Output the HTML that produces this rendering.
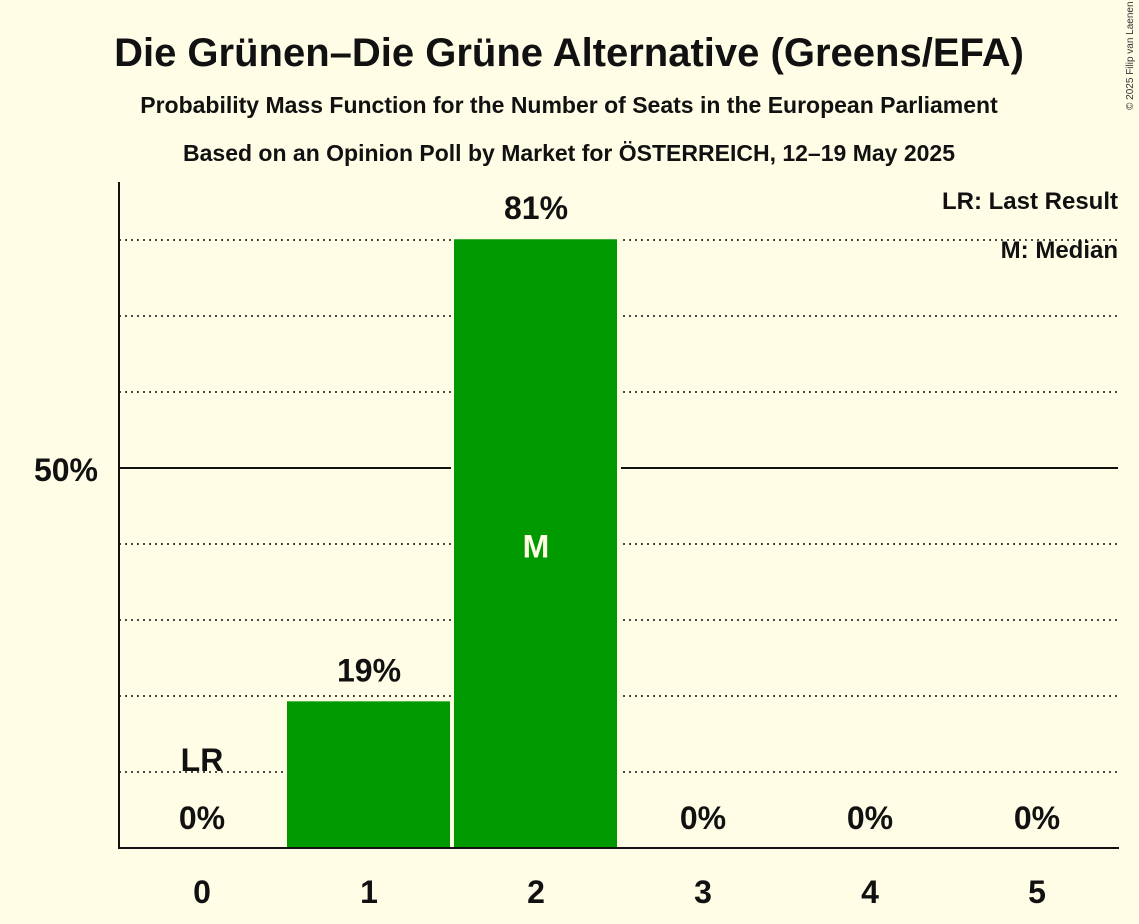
<!DOCTYPE html>
<html><head><meta charset="utf-8"><style>
body{margin:0;background:#fffde6;}
svg{display:block;font-family:"Liberation Sans",sans-serif;font-weight:bold;}
</style></head><body>
<svg width="1139" height="924" viewBox="0 0 1139 924">
<rect width="1139" height="924" fill="#fffde6"/>
<text x="569" y="66" text-anchor="middle" font-size="40" fill="#111">Die Grünen–Die Grüne Alternative (Greens/EFA)</text>
<text x="569" y="113" text-anchor="middle" font-size="23" fill="#111">Probability Mass Function for the Number of Seats in the European Parliament</text>
<text x="569" y="161" text-anchor="middle" font-size="23" fill="#111">Based on an Opinion Poll by Market for ÖSTERREICH, 12–19 May 2025</text>
<text x="1133" y="110" font-size="10" font-weight="normal" fill="#333" transform="rotate(-90 1133 110)">© 2025 Filip van Laenen</text>
<g id="grid"></g>
<g id="bars"></g>
<g id="labels"></g>
<line x1="119" y1="182" x2="119" y2="849" stroke="#111" stroke-width="2"/>
<line x1="118" y1="848" x2="1119" y2="848" stroke="#111" stroke-width="2"/>
<text x="98" y="481" text-anchor="end" font-size="32" fill="#111">50%</text>
<text x="1118" y="209" text-anchor="end" font-size="24" fill="#111">LR: Last Result</text>
<text x="1118" y="258" text-anchor="end" font-size="24" fill="#111">M: Median</text>
<script>
const categories=[0,1,2,3,4,5];
const values=[0,19.3,80.1,0,0,0];
const valueLabels=["0%","19%","81%","0%","0%","0%"];
const lastResult=0;
const median=2;
const gridTicks=[10,20,30,40,50,60,70,80];
const NS="http://www.w3.org/2000/svg";
function x(c){return 202+c*167;}
function y(v){return 848-v*7.6;}
function mk(t,a,p){const e=document.createElementNS(NS,t);for(const k in a)e.setAttribute(k,a[k]);p.appendChild(e);return e;}
const grid=document.getElementById('grid'),bars=document.getElementById('bars'),labels=document.getElementById('labels');
gridTicks.forEach(t=>{
 const l=mk('line',{x1:119,x2:1118,y1:y(t),y2:y(t),stroke:'#111','stroke-width':t===50?2:1.5,'stroke-dasharray':t===50?'none':'2,4'},grid);
 
 
});
categories.forEach((c,i)=>{
 const v=values[i];
 if(v>0){
  mk('rect',{x:x(c)-85,y:y(v)-4,width:170,height:848-y(v)+4,fill:'#fffde6'},bars);
  const r=mk('rect',{x:x(c)-82,y:y(v),width:163,height:848-y(v),fill:'#009900'},bars);
  
  
 }
 const inside=false;
 const ty=v>0?y(v)-20:829;
 const t=mk('text',{x:x(c),y:ty,'text-anchor':'middle','font-size':32,fill:'#111'},labels);
 t.textContent=valueLabels[i];
 
 
 const xt=mk('text',{x:x(c),y:903,'text-anchor':'middle','font-size':32,fill:'#111'},labels);
 xt.textContent=String(c);
 
 
 if(c===median){
  const m=mk('text',{x:x(c),y:(y(v)+848)/2+14,'text-anchor':'middle','font-size':32,fill:'#fffde6'},labels);
  m.textContent='M';
  
  
 }
 if(c===lastResult){
  const lr=mk('text',{x:x(c),y:771,'text-anchor':'middle','font-size':32,fill:'#111'},labels);
  lr.textContent='LR';
  
  
 }
});
</script>
</svg>
</body></html>
